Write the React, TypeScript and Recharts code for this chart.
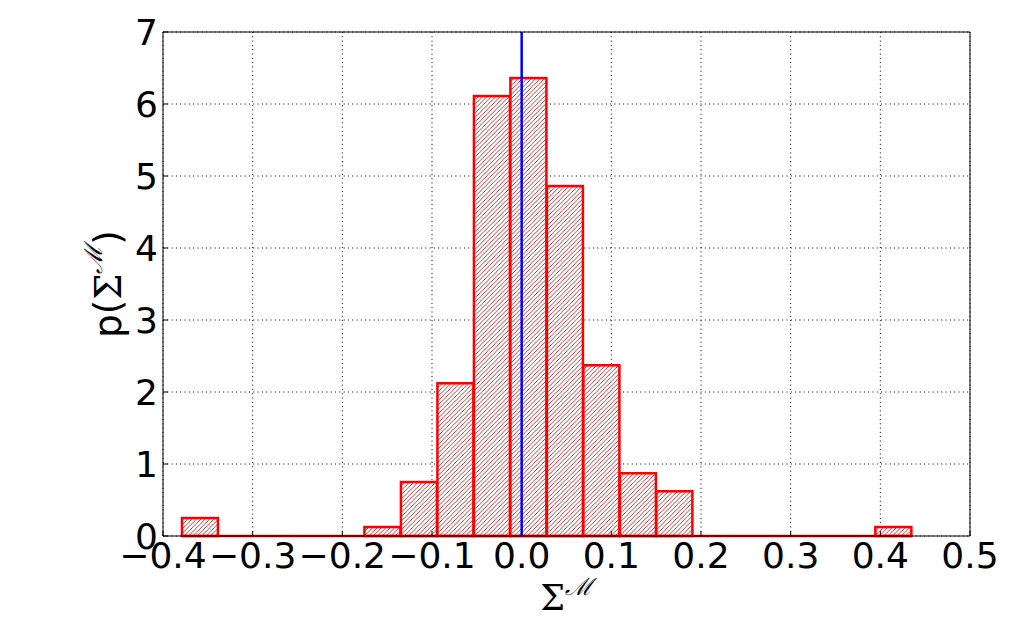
import { BarChart, Bar, XAxis, YAxis, CartesianGrid, ReferenceLine } from 'recharts'

// histogram bins (centres) and densities
const binCenters = [
  -0.3585, -0.3178, -0.2771, -0.2364, -0.1957, -0.1550, -0.1143, -0.0736, -0.0329, 0.0078,
  0.0485, 0.0892, 0.1299, 0.1706, 0.2113, 0.2520, 0.2927, 0.3334, 0.3741, 0.4148,
]
const density = [
  0.25, 0, 0, 0, 0, 0.125, 0.75, 2.12, 6.11, 6.36,
  4.86, 2.37, 0.87, 0.62, 0, 0, 0, 0, 0, 0.125,
]
const binStart = -0.3788
const binEnd = 0.4352
const meanLine = 0

const xTicks = [-0.4, -0.3, -0.2, -0.1, 0, 0.1, 0.2, 0.3, 0.4, 0.5]
const yTicks = [0, 1, 2, 3, 4, 5, 6, 7]

const data = binCenters.map((x, i) => ({ x, y: density[i] }))

const FONT = 'DejaVu Sans'
const tickStyle = { fill: '#000', fontSize: 36, fontFamily: FONT }

const fmtX = (v: number) => (v < 0 ? '\u2212' + Math.abs(v).toFixed(1) : v.toFixed(1))

const XLabel = ({ viewBox }: any) => {
  const cx = viewBox.x + viewBox.width / 2
  return (
    <text x={cx} y={602} textAnchor="middle" fill="#000" fontSize={35} fontFamily="DejaVu Serif">
      <tspan>Σ</tspan>
      <tspan fontSize={24} dy={-15} fontStyle="italic">ℳ</tspan>
    </text>
  )
}

const YLabel = ({ viewBox }: any) => {
  const cx = 100
  const cy = viewBox.y + viewBox.height / 2
  return (
    <text
      x={cx}
      y={cy}
      textAnchor="middle"
      dominantBaseline="central"
      transform={`rotate(-90, ${cx}, ${cy})`}
      fill="#000"
      fontSize={37}
      fontFamily={FONT}
    >
      <tspan>p(</tspan>
      <tspan fontFamily="DejaVu Serif">Σ</tspan>
      <tspan fontSize={25} dy={-15} fontFamily="DejaVu Serif" fontStyle="italic">ℳ</tspan>
      <tspan dy={15}>)</tspan>
    </text>
  )
}

export default function App() {
  return (
    <BarChart
      width={1013}
      height={623}
      data={data}
      margin={{ top: 0, right: 0, bottom: 0, left: 0 }}
      barCategoryGap={0}
      barGap={0}
    >
      <defs>
        <pattern id="hatch" patternUnits="userSpaceOnUse" width={4.4} height={4.4}>
          <rect width={4.4} height={4.4} fill="#fff" />
          <path d="M-1.1,1.1 L1.1,-1.1 M0,4.4 L4.4,0 M3.3,5.5 L5.5,3.3" stroke="#a81818" strokeWidth={0.85} />
        </pattern>
      </defs>
      <CartesianGrid stroke="#000" strokeWidth={1} strokeDasharray="1 3.3" />
      <XAxis
        dataKey="x"
        type="number"
        domain={[-0.4, 0.5]}
        ticks={xTicks}
        allowDataOverflow
        tickFormatter={fmtX}
        height={95}
        tickSize={-5}
        tickMargin={11.5}
        stroke="#000"
        tick={tickStyle}
        interval={0}
        label={{ content: XLabel }}
      />
      <XAxis
        xAxisId="top"
        orientation="top"
        type="number"
        domain={[-0.4, 0.5]}
        ticks={xTicks}
        allowDataOverflow
        height={24}
        tickSize={-5}
        stroke="#000"
        tick={false}
      />
      <YAxis
        type="number"
        domain={[0, 7]}
        ticks={yTicks}
        width={155}
        tickSize={-5}
        tickMargin={10}
        stroke="#000"
        tick={tickStyle}
        interval={0}
        label={{ content: YLabel }}
      />
      <YAxis
        yAxisId="right"
        orientation="right"
        type="number"
        domain={[0, 7]}
        ticks={yTicks}
        width={51}
        tickSize={-5}
        stroke="#000"
        tick={false}
      />
      <Bar dataKey="y" fill="url(#hatch)" stroke="#ff0000" strokeWidth={2.5} isAnimationActive={false} />
      <ReferenceLine
        segment={[{ x: binStart, y: 0 }, { x: binEnd, y: 0 }]}
        stroke="#ff0000"
        strokeWidth={2.5}
      />
      <ReferenceLine x={meanLine} stroke="#0000ff" strokeWidth={2.5} />
    </BarChart>
  )
}
